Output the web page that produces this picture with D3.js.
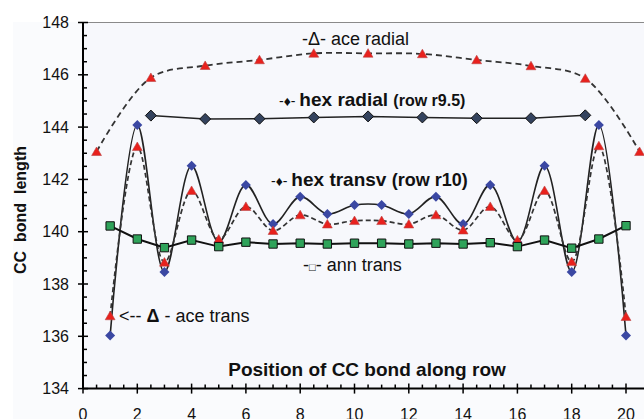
<!DOCTYPE html>
<html><head><meta charset="utf-8">
<script src="https://cdn.jsdelivr.net/npm/d3@7"></script>
<style>html,body{margin:0;padding:0;background:#fff;}svg{display:block;font-family:Arial,"Liberation Sans",sans-serif;}</style>
</head><body>
<script>
// ---- data ----
const radialX = [2.5, 4.5, 6.5, 8.5, 10.5, 12.5, 14.5, 16.5, 18.5];
const hexRadial = [144.44, 144.31, 144.32, 144.37, 144.41, 144.37, 144.34, 144.34, 144.45];
const aceRadialX = [0.5, 2.5, 4.5, 6.5, 8.5, 10.5, 12.5, 14.5, 16.5, 18.5, 20.5];
const aceRadial = [143.06, 145.89, 146.35, 146.57, 146.82, 146.82, 146.8, 146.57, 146.34, 145.86, 143.06];
const transX = [1,2,3,4,5,6,7,8,9,10,11,12,13,14,15,16,17,18,19,20];
const hexTransv = [136.03, 144.08, 138.46, 142.52, 139.6, 141.79, 140.29, 141.34, 140.68, 141.02, 141.02, 140.68, 141.34, 140.29, 141.79, 139.6, 142.52, 138.46, 144.08, 136.03];
const aceTrans = [136.78, 143.25, 138.83, 141.57, 139.71, 140.96, 140.04, 140.64, 140.29, 140.42, 140.42, 140.29, 140.64, 140.06, 140.96, 139.68, 141.57, 138.85, 143.28, 136.75];
const annTrans = [140.22, 139.72, 139.39, 139.68, 139.43, 139.6, 139.53, 139.56, 139.53, 139.56, 139.56, 139.53, 139.56, 139.53, 139.58, 139.43, 139.68, 139.37, 139.72, 140.23];
const xTicks = [0,2,4,6,8,10,12,14,16,18,20];
const yTicks = [134,136,138,140,142,144,146,148];

const W = 644, H = 419;
const svg = d3.select("body").append("svg").attr("width", W).attr("height", H);
const x = d3.scaleLinear().domain([0, 20]).range([83, 626]);
const y = d3.scaleLinear().domain([134, 148]).range([388.6, 22.5]);

// backgrounds
svg.append("rect").attr("x", 13).attr("y", 22).attr("width", W - 13).attr("height", H - 22).attr("fill", "#fafbfd");
svg.append("rect").attr("x", x(0)).attr("y", y(148)).attr("width", W - x(0)).attr("height", y(134) - y(148)).attr("fill", "#f7f8fc");
// top border
svg.append("line").attr("x1", x(0)).attr("x2", W).attr("y1", y(148)).attr("y2", y(148)).attr("stroke", "#8a8a8a").attr("stroke-width", 1.2);

// axes
const gx = svg.append("g");
gx.append("line").attr("x1", x(0)).attr("x2", W).attr("y1", y(134)).attr("y2", y(134)).attr("stroke", "#000").attr("stroke-width", 2);
const xMinor = d3.range(0.5, 20.01, 0.5).filter(v => Math.abs(v % 2) > 0.01);
gx.selectAll("line.mn").data(xMinor).join("line").attr("class","mn")
  .attr("x1", d => x(d)).attr("x2", d => x(d)).attr("y1", y(134)).attr("y2", y(134) - 4)
  .attr("stroke", "#000").attr("stroke-width", 1.5);
gx.selectAll("line.mj").data(xTicks).join("line").attr("class","mj")
  .attr("x1", d => x(d)).attr("x2", d => x(d)).attr("y1", y(134) - 5).attr("y2", y(134) + 5)
  .attr("stroke", "#000").attr("stroke-width", 1.5);
gx.selectAll("text").data(xTicks).join("text")
  .attr("x", d => x(d)).attr("y", 419.5).attr("text-anchor", "middle")
  .attr("font-size", 16).attr("fill", "#111").text(d => d);

const gy = svg.append("g");
gy.append("line").attr("x1", x(0)).attr("x2", x(0)).attr("y1", y(148)).attr("y2", y(134)).attr("stroke", "#000").attr("stroke-width", 2);
const yMinor = d3.range(134.5, 148, 0.5).filter(v => Math.abs(v % 2) > 0.01);
gy.selectAll("line.mn").data(yMinor).join("line").attr("class","mn")
  .attr("x1", x(0)).attr("x2", x(0) + 4).attr("y1", d => y(d)).attr("y2", d => y(d))
  .attr("stroke", "#000").attr("stroke-width", 1.5);
gy.selectAll("line.mj").data(yTicks).join("line").attr("class","mj")
  .attr("x1", x(0) - 5).attr("x2", x(0) + 5).attr("y1", d => y(d)).attr("y2", d => y(d))
  .attr("stroke", "#000").attr("stroke-width", 1.5);
gy.selectAll("text").data(yTicks).join("text")
  .attr("x", 69).attr("y", d => y(d) + 5.5).attr("text-anchor", "end")
  .attr("font-size", 16).attr("fill", "#111").text(d => d);

// axis titles
svg.append("text").attr("transform", "translate(26,210) rotate(-90)").attr("text-anchor", "middle")
  .attr("font-size", 16).attr("font-weight", "bold").attr("xml:space", "preserve").style("white-space","pre")
  .attr("fill", "#111").text("CC  bond  length");
svg.append("text").attr("x", 367).attr("y", 376).attr("text-anchor", "middle")
  .attr("font-size", 19).attr("font-weight", "bold").attr("fill", "#111").text("Position of CC bond along row");

// series helpers
const lineSmooth = d3.line().curve(d3.curveCatmullRom.alpha(0.5));
const lineStraight = d3.line();
function pts(xs, ys) { return xs.map((d, i) => [x(d), y(ys[i])]); }

const tri = d3.symbol().type(d3.symbolTriangle).size(42);
function diamond(r) { return `M0,${-r}L${r},0L0,${r}L${-r},0Z`; }
const sq = d3.symbol().type(d3.symbolSquare).size(70);

// ace radial
svg.append("path").attr("d", lineSmooth(pts(aceRadialX, aceRadial))).attr("fill", "none")
  .attr("stroke", "#333").attr("stroke-width", 1.8).attr("stroke-dasharray", "6,4");
// hex radial
svg.append("path").attr("d", lineStraight(pts(radialX, hexRadial))).attr("fill", "none")
  .attr("stroke", "#222").attr("stroke-width", 1.5);
// hex transv
svg.append("path").attr("d", lineSmooth(pts(transX, hexTransv))).attr("fill", "none")
  .attr("stroke", "#222").attr("stroke-width", 1.6);
// ace trans
svg.append("path").attr("d", lineSmooth(pts(transX, aceTrans))).attr("fill", "none")
  .attr("stroke", "#333").attr("stroke-width", 1.7).attr("stroke-dasharray", "5,3");

// markers
svg.append("g").selectAll("path").data(pts(radialX, hexRadial)).join("path")
  .attr("transform", d => `translate(${d[0]},${d[1]})`).attr("d", diamond(5.5))
  .attr("fill", "#34435e").attr("stroke", "#111").attr("stroke-width", 1);
svg.append("g").selectAll("path").data(pts(aceRadialX, aceRadial)).join("path")
  .attr("transform", d => `translate(${d[0]},${d[1] + 1})`).attr("d", tri)
  .attr("fill", "#e8211d").attr("stroke", "#b44").attr("stroke-width", 0.6);
svg.append("g").selectAll("path").data(pts(transX, hexTransv)).join("path")
  .attr("transform", d => `translate(${d[0]},${d[1]})`).attr("d", diamond(5))
  .attr("fill", "#3b48a3");
svg.append("g").selectAll("path").data(pts(transX, aceTrans)).join("path")
  .attr("transform", d => `translate(${d[0]},${d[1] + 1})`).attr("d", tri)
  .attr("fill", "#e8211d").attr("stroke", "#b44").attr("stroke-width", 0.6);
svg.append("path").attr("d", lineStraight(pts(transX, annTrans))).attr("fill", "none")
  .attr("stroke", "#111").attr("stroke-width", 2);
svg.append("g").selectAll("path").data(pts(transX, annTrans)).join("path")
  .attr("transform", d => `translate(${d[0]},${d[1]})`).attr("d", sq)
  .attr("fill", "#2fa35a").attr("stroke", "#111").attr("stroke-width", 1);

// annotations
function note(xp, yp, parts) {
  const t = svg.append("text").attr("x", xp).attr("y", yp).attr("fill", "#111").style("white-space", "pre");
  parts.forEach(p => t.append("tspan").attr("font-size", p.s).attr("font-weight", p.b ? "bold" : "normal").text(p.t));
}
note(302, 45, [{t: "-Δ- ace radial", s: 18}]);
note(279, 106, [{t: "-♦- ", s: 14}, {t: "hex radial ", s: 19, b: 1}, {t: "(row r9.5)", s: 16, b: 1}]);
note(271, 186, [{t: "-♦- ", s: 14}, {t: "hex transv ", s: 19, b: 1}, {t: "(row r10)", s: 18, b: 1}]);
note(303, 271, [{t: "-", s: 18}, {t: "□", s: 11}, {t: "- ann trans", s: 18}]);
note(119, 322, [{t: "<-- ", s: 18}, {t: "Δ", s: 18, b: 1}, {t: " - ace trans", s: 18}]);
</script>
</body></html>
